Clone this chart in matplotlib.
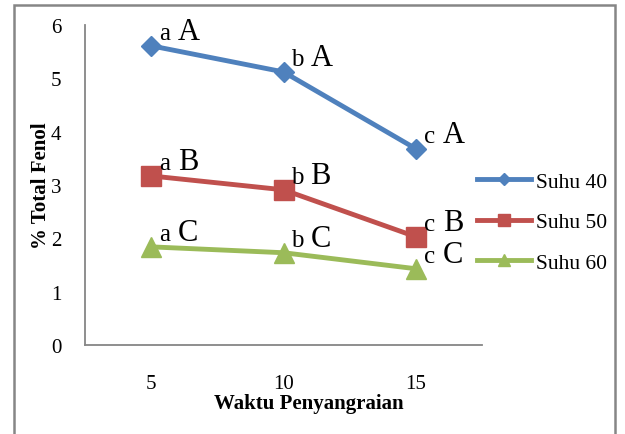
import matplotlib
matplotlib.use('Agg')
import matplotlib.pyplot as plt
import matplotlib.patches as mpatches

plt.rcParams['font.family'] = 'Liberation Serif'

# data
waktu = ['5', '10', '15']
suhu_40 = [5.61, 5.12, 3.68]
suhu_50 = [3.17, 2.91, 2.03]
suhu_60 = [1.84, 1.73, 1.43]
notasi_kecil = ['a', 'b', 'c']
notasi_besar = ['A', 'B', 'C']

series = [('Suhu 40', suhu_40, '#4F81BD', 'D', 10),
          ('Suhu 50', suhu_50, '#C0504D', 's', 14),
          ('Suhu 60', suhu_60, '#9BBB59', '^', 14)]

W, H = 625, 435
fig = plt.figure(figsize=(W/100, H/100), dpi=100)
ax = fig.add_axes([85/W, 1-346/H, (482-85)/W, (346-26)/H])

x = list(range(len(waktu)))
for (name, vals, col, mk, ms), big in zip(series, notasi_besar):
    ax.plot(x, vals, color=col, lw=3.5, marker=mk, ms=ms, label=name)
    for i, v in enumerate(vals):
        ax.annotate(notasi_kecil[i], (i, v), xytext=(8, 7), textcoords='offset pixels',
                    ha='left', va='baseline', fontsize=18)
        ax.annotate(big, (i, v), xytext=(27, 7), textcoords='offset pixels',
                    ha='left', va='baseline', fontsize=22)

ax.set_xlim(-0.5, 2.5)
ax.set_ylim(0, 6)
ax.set_xticks(x)
ax.set_xticklabels(waktu)
ax.set_yticks(range(0, 7))
ax.tick_params(length=0, labelsize=15)
ax.tick_params(axis='x', pad=21)
ax.tick_params(axis='y', pad=17)
for s in ['top', 'right']:
    ax.spines[s].set_visible(False)
for s in ['left', 'bottom']:
    ax.spines[s].set_color('#868686')
    ax.spines[s].set_linewidth(1.3)

fig.legend(loc='center left', bbox_to_anchor=(477/W, 1-223/H), frameon=False,
           fontsize=15.5, handlelength=2.5, handletextpad=0.25, borderpad=0,
           borderaxespad=0, labelspacing=0.95, markerscale=0.6)

fig.text(41/W, 1-186/H, '% Total Fenol', rotation=90, ha='center', va='center',
         fontsize=15, fontweight='bold')
fig.text(309/W, 1-404/H, 'Waktu Penyangraian', ha='center', va='center',
         fontsize=15, fontweight='bold')

# outer chart border
fig.patches.append(mpatches.Rectangle((14/W, -0.1), (615-14)/W, 1-6/H+0.1,
                                      transform=fig.transFigure, fill=False,
                                      edgecolor='#868686', lw=1.8))

fig.savefig('out.png', dpi=100)
